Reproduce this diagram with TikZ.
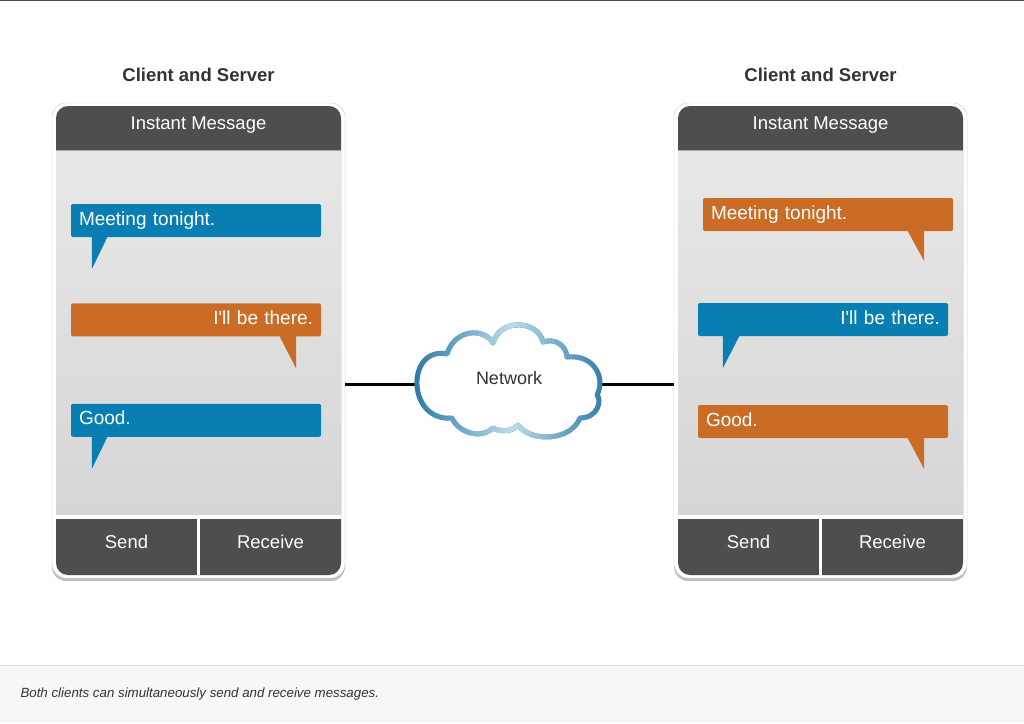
\documentclass[tikz,border=0pt]{standalone}
\usepackage{fontspec}
\setmainfont{Liberation Sans}
\usepackage{tikz}
\usetikzlibrary{positioning,shadows,fadings,calc}

\definecolor{imgray}{HTML}{4F4D4F}
\definecolor{imblue}{HTML}{087EB2}
\definecolor{imorange}{HTML}{CB6C26}
\definecolor{scrtop}{HTML}{E8E7E8}
\definecolor{scrbot}{HTML}{D7D6D7}
\definecolor{clouddark}{HTML}{2A78A5}
\definecolor{cloudlight}{HTML}{BCDDEB}
\definecolor{notegray}{HTML}{F7F7F7}
\definecolor{inkgray}{HTML}{333333}

\tikzfading[name=cloudmid, left color=transparent!100, right color=transparent!100,
    middle color=transparent!0]

\begin{document}
\begin{tikzpicture}[x=1pt, y=-1pt,
    title/.style={font=\bfseries\fontsize{18.5}{20}\selectfont, text=inkgray, anchor=base},
    phone/.style={rectangle, draw=black!20, fill=white, rounded corners=14pt,
        minimum width=293pt, minimum height=475pt,
        drop shadow={shadow xshift=0pt, shadow yshift=-3pt, opacity=0.5}},
    btntext/.style={font=\fontsize{18.5}{20}\selectfont, text=white, anchor=base},
    bubble/.style={rectangle, rounded corners=2pt, text=white, font=\fontsize{19}{21}\selectfont,
        text width=234pt, inner xsep=8pt, inner ysep=0pt, minimum height=33pt,
        text height=13pt, text depth=4pt},
    wire/.style={line width=3pt, black},
    cloudline/.style={line width=5pt, draw=clouddark, fill=white, line join=round},
    nettext/.style={font=\fontsize{18}{20}\selectfont, text=inkgray, anchor=base},
    note/.style={font=\itshape\fontsize{13.3}{15}\selectfont, text=inkgray, anchor=base west}
]
\useasboundingbox (0,0) rectangle (1024,723);
\fill[white] (0,0) rectangle (1024,723);
\fill[black!70] (0,0) rectangle (1024,1.2);
\fill[notegray] (0,665) rectangle (1024,723);
\draw[black!12] (0,665) -- (1024,665);

% the two phones
\foreach \px/\nm in {0/lphone, 622/rphone}{
\begin{scope}[xshift=\px]
    \node[phone] (\nm) at (198.5,340.5) {};
    \fill[imgray, rounded corners=12pt] (56,106) rectangle (341,575);
    \shade[top color=scrtop, bottom color=scrbot] (56,151) rectangle (341,515);
    \draw[black!35] (56,150.5) -- (341,150.5);
    \fill[white] (56,515) rectangle (341,519);
    \fill[white] (197,519) rectangle (200,575);
    \node[title] (\nm-title) at (198.5,81) {Client and Server};
    \node[btntext] (\nm-head) at (198.5,129) {Instant Message};
    \node[btntext] (\nm-send) at (126.5,548) {Send};
    \node[btntext] (\nm-recv) at (270.5,548) {Receive};
\end{scope}
}

% messages, left phone
\node[bubble, fill=imblue, align=left] (lmsg1) at (196,220.5) {Meeting tonight.};
\node[bubble, fill=imorange, align=right, below=66pt of lmsg1] (lmsg2) {I\textquotesingle ll be there.};
\node[bubble, fill=imblue, align=left, below=67pt of lmsg2] (lmsg3) {Good.};
\fill[imblue] ($(lmsg1.south west)+(21,-1)$) -- ($(lmsg1.south west)+(37,-1)$) -- ($(lmsg1.south west)+(21,32)$) -- cycle;
\fill[imorange] ($(lmsg2.south east)+(-42,-1)$) -- ($(lmsg2.south east)+(-25,-1)$) -- ($(lmsg2.south east)+(-25,32)$) -- cycle;
\fill[imblue] ($(lmsg3.south west)+(21,-1)$) -- ($(lmsg3.south west)+(37,-1)$) -- ($(lmsg3.south west)+(21,32)$) -- cycle;

% messages, right phone
\node[bubble, fill=imorange, align=left] (rmsg1) at (828,214.5) {Meeting tonight.};
\node[bubble, fill=imblue, align=right] (rmsg2) at (823,319.5) {I\textquotesingle ll be there.};
\node[bubble, fill=imorange, align=left] (rmsg3) at (823,421.5) {Good.};
\fill[imorange] ($(rmsg1.south east)+(-46,-1)$) -- ($(rmsg1.south east)+(-29,-1)$) -- ($(rmsg1.south east)+(-29,30)$) -- cycle;
\fill[imblue] ($(rmsg2.south west)+(25,-1)$) -- ($(rmsg2.south west)+(42,-1)$) -- ($(rmsg2.south west)+(25,32)$) -- cycle;
\fill[imorange] ($(rmsg3.south east)+(-41,-1)$) -- ($(rmsg3.south east)+(-24,-1)$) -- ($(rmsg3.south east)+(-24,31)$) -- cycle;

% network
\coordinate (cl) at (417,384);
\coordinate (cr) at (599,384);
\draw[wire] (lphone.east |- cl) -- (cl);
\draw[wire] (cr) -- (rphone.west |- cr);
\draw[cloudline, postaction={draw=cloudlight, line width=5pt, path fading=cloudmid}]
    (447,354) .. controls (428,350) and (416,365) .. (417,385)
    .. controls (418,405) and (432,420) .. (452,418)
    .. controls (458,432) and (480,440) .. (493,428)
    .. controls (500,432) and (512,432) .. (518,425)
    .. controls (530,442) and (570,442) .. (580,418)
    .. controls (598,418) and (602,400) .. (597,395)
    .. controls (606,378) and (594,354) .. (567,357)
    .. controls (566,345) and (555,338) .. (543,342)
    .. controls (538,320) and (500,318) .. (493,343)
    .. controls (485,328) and (455,328) .. (447,354) -- cycle;
\node[nettext] (net) at (509,384) {Network};

\node[note] (caption) at (17,697) {Both clients can simultaneously send and receive messages.};
\end{tikzpicture}
\end{document}
